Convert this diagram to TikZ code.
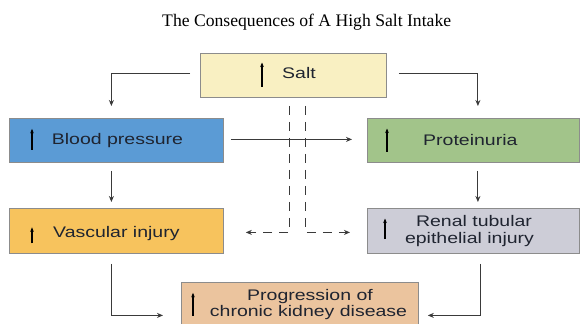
\documentclass[tikz,border=0pt]{standalone}
\usepackage{fontspec}
\setmainfont{Liberation Serif}
\newfontfamily\boxfont{Liberation Sans}
\usetikzlibrary{arrows.meta}
\definecolor{saltc}{HTML}{F9F0C2}
\definecolor{bpc}{HTML}{5B9BD5}
\definecolor{protc}{HTML}{A2C48A}
\definecolor{vascc}{HTML}{F7C35D}
\definecolor{renalc}{HTML}{CDCDD7}
\definecolor{progc}{HTML}{EBC49E}
\definecolor{edgec}{HTML}{8C8C8C}
\definecolor{txtc}{HTML}{1F2430}
\definecolor{linec}{HTML}{3A3A3A}
\newcommand\hs[1]{\scalebox{1.27}[1]{#1}}
\tikzset{
  box/.style={draw=edgec, line width=0.8bp, inner sep=0pt, anchor=north west},
  lbl/.style={font=\boxfont\fontsize{15.4}{17}\selectfont, text=txtc, inner sep=0pt},
  conn/.style={draw=linec, line width=1bp, -{Stealth[length=6bp,width=5bp]}},
  dconn/.style={conn, dash pattern=on 9bp off 7bp},
  uparr/.style={draw=black, line width=1.1bp, -{Stealth[length=4.5bp,width=3.6bp]}},
  title/.style={font=\fontsize{17.7}{20}\selectfont, text=black, inner sep=0pt}
}
\begin{document}
\begin{tikzpicture}[x=1bp,y=-1bp]
\useasboundingbox (0,0) rectangle (580,323);
\clip (0,0) rectangle (580,323);
\fill[white] (0,0) rectangle (580,323);

\node[title, anchor=base] (ttl) at (306.7,26.6) {The Consequences of A High Salt Intake};

% boxes
\node[box, fill=saltc, minimum width=186bp, minimum height=44bp] (salt) at (200,53) {};
\node[box, fill=bpc, minimum width=214bp, minimum height=44bp] (bp) at (9,118) {};
\node[box, fill=protc, minimum width=212bp, minimum height=44bp] (prot) at (367,118) {};
\node[box, fill=vascc, minimum width=214bp, minimum height=45bp] (vasc) at (9,208) {};
\node[box, fill=renalc, minimum width=212bp, minimum height=45bp] (renal) at (367,208) {};
\node[box, fill=progc, minimum width=237bp, minimum height=50bp] (prog) at (181,282) {};

% labels
\node[lbl, anchor=base west] (tsalt) at (282,78) {\hs{Salt}};
\node[lbl, anchor=base west] (tbp) at (51.7,144.5) {\hs{Blood pressure}};
\node[lbl, anchor=base west] (tprot) at (423,145) {\hs{Proteinuria}};
\node[lbl, anchor=base west] (tvasc) at (53,237.5) {\hs{Vascular injury}};
\node[lbl, anchor=base] (trenA) at (474,226.5) {\hs{Renal tubular}};
\node[lbl, anchor=base] (trenB) at (469.5,243.5) {\hs{epithelial injury}};
\node[lbl, anchor=base] (tprogA) at (310,300.5) {\hs{Progression of}};
\node[lbl, anchor=base] (tprogB) at (308.5,316.5) {\hs{chronic kidney disease}};

% up arrows in boxes
\draw[uparr] ([xshift=62bp,yshift=11.3bp]salt.south west) -- ++(0,-24);
\draw[uparr] ([xshift=23bp,yshift=13bp]bp.south west) -- ++(0,-21);
\draw[uparr] ([xshift=20bp,yshift=11.3bp]prot.south west) -- ++(0,-23);
\draw[uparr] ([xshift=23bp,yshift=10.5bp]vasc.south west) -- ++(0,-16);
\draw[uparr] ([xshift=18bp,yshift=14.7bp]renal.south west) -- ++(0,-20.6);
\draw[uparr] ([xshift=12bp,yshift=17bp]prog.south west) -- ++(0,-23);

% connectors
\draw[conn] ([xshift=-10bp,yshift=2bp]salt.west) -| ([xshift=-5bp,yshift=12bp]bp.north);
\draw[conn] ([xshift=12bp,yshift=2bp]salt.east) -| ([xshift=4.5bp,yshift=12bp]prot.north);
\draw[conn] ([xshift=7bp,yshift=1bp]bp.east) -- ([xshift=-15bp,yshift=1bp]prot.west);
\draw[conn] ([xshift=-5bp,yshift=-8bp]bp.south) -- ([xshift=-5bp,yshift=6bp]vasc.north);
\draw[conn] ([xshift=4.5bp,yshift=-8bp]prot.south) -- ([xshift=4.5bp,yshift=6bp]renal.north);
\draw[conn] ([xshift=-5bp,yshift=-10bp]vasc.south) |- ([xshift=-18bp,yshift=-8bp]prog.west);
\draw[conn] ([xshift=7.5bp,yshift=-10bp]renal.south) |- ([xshift=9bp,yshift=-8bp]prog.east);
\draw[dconn] ([xshift=-4bp,yshift=-8bp]salt.south) |- ([xshift=22bp,yshift=-1.5bp]vasc.east);
\draw[dconn] ([xshift=12bp,yshift=-8bp]salt.south) |- ([xshift=-17bp,yshift=-1.5bp]renal.west);
\end{tikzpicture}
\end{document}
